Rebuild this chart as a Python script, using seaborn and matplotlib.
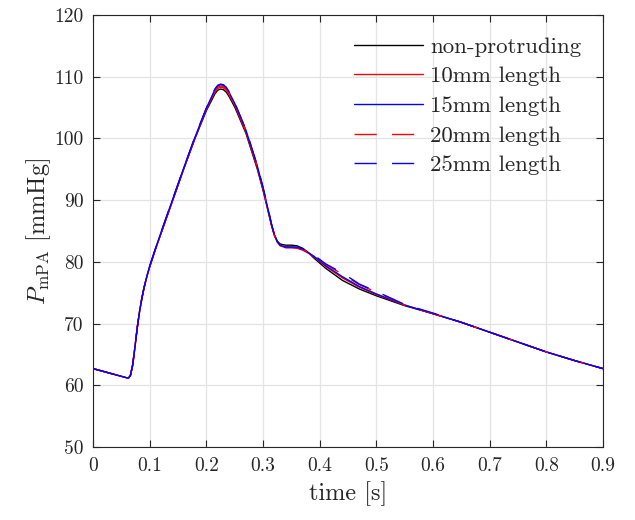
import numpy as np
import pandas as pd
import matplotlib
matplotlib.use("Agg")
import matplotlib.pyplot as plt
import seaborn as sns

# ---- data ----
time = [0.0, 0.02, 0.04, 0.06, 0.063, 0.066, 0.07, 0.074, 0.078, 0.082, 0.086, 0.09,
        0.095, 0.1, 0.11, 0.125, 0.14, 0.16, 0.18,
        0.2, 0.21, 0.215, 0.22, 0.225, 0.23, 0.235, 0.24, 0.25, 0.27, 0.29, 0.3,
        0.31, 0.315, 0.32, 0.325, 0.33, 0.34, 0.35, 0.36, 0.37, 0.38, 0.39, 0.41,
        0.44, 0.47, 0.5, 0.55,
        0.6, 0.65, 0.7, 0.75, 0.8, 0.85, 0.9]

p_nonprot = [62.7, 62.2, 61.7, 61.2, 61.2, 61.6, 63.3, 66.2, 69.3, 71.9, 74.0, 75.8,
             77.6, 79.2, 82.0, 85.9, 89.8, 95.0, 100.0,
             104.5, 106.3, 107.2, 107.8, 108.0, 107.9, 107.5, 106.8, 105.1, 100.8, 95.0, 91.6,
             87.8, 85.9, 84.4, 83.4, 82.9, 82.7, 82.7, 82.6, 82.2, 81.5, 80.6, 79.0,
             77.0, 75.6, 74.5, 72.9,
             71.6, 70.2, 68.6, 67.0, 65.4, 64.0, 62.7]
p_10mm = [62.7, 62.2, 61.7, 61.2, 61.2, 61.6, 63.3, 66.2, 69.3, 71.9, 74.0, 75.8,
          77.6, 79.2, 82.0, 85.9, 89.8, 95.1, 100.1,
          104.7, 106.6, 107.5, 108.1, 108.3, 108.2, 107.8, 107.1, 105.4, 101.0, 95.2, 91.8,
          87.9, 85.9, 84.3, 83.2, 82.6, 82.3, 82.3, 82.2, 81.9, 81.4, 80.8, 79.3,
          77.4, 75.9, 74.7, 73.0,
          71.6, 70.2, 68.6, 67.0, 65.4, 64.0, 62.7]
p_15mm = [62.7, 62.2, 61.7, 61.2, 61.2, 61.6, 63.3, 66.2, 69.3, 71.9, 74.0, 75.8,
          77.7, 79.3, 82.1, 86.1, 90.0, 95.2, 100.2,
          104.9, 106.9, 107.9, 108.5, 108.7, 108.6, 108.2, 107.5, 105.7, 101.3, 95.5, 92.0,
          88.1, 86.1, 84.4, 83.3, 82.7, 82.4, 82.4, 82.3, 82.0, 81.5, 80.9, 79.4,
          77.6, 76.0, 74.8, 73.0,
          71.6, 70.2, 68.6, 67.0, 65.4, 64.0, 62.7]
p_20mm = [62.7, 62.2, 61.7, 61.2, 61.2, 61.6, 63.3, 66.2, 69.3, 71.9, 74.0, 75.8,
          77.6, 79.2, 82.0, 86.0, 89.9, 95.1, 100.1,
          104.8, 106.8, 107.7, 108.3, 108.5, 108.4, 108.0, 107.3, 105.6, 101.2, 95.4, 91.9,
          88.0, 86.0, 84.3, 83.2, 82.6, 82.3, 82.3, 82.3, 82.0, 81.6, 81.0, 79.6,
          78.0, 76.3, 75.1, 73.0,
          71.6, 70.2, 68.6, 67.0, 65.4, 64.0, 62.7]
p_25mm = [62.7, 62.2, 61.7, 61.2, 61.2, 61.6, 63.3, 66.2, 69.3, 71.9, 74.0, 75.8,
          77.7, 79.3, 82.1, 86.1, 90.0, 95.2, 100.3,
          104.9, 107.0, 108.0, 108.6, 108.8, 108.7, 108.3, 107.6, 105.8, 101.4, 95.6, 92.1,
          88.2, 86.1, 84.4, 83.3, 82.7, 82.4, 82.4, 82.4, 82.1, 81.7, 81.1, 79.7,
          78.2, 76.4, 75.2, 73.1,
          71.7, 70.2, 68.6, 67.0, 65.4, 64.0, 62.7]

labels = ["non-protruding", "10mm length", "15mm length", "20mm length", "25mm length"]
xticks = [0, 0.1, 0.2, 0.3, 0.4, 0.5, 0.6, 0.7, 0.8, 0.9]
xticklabels = ["0", "0.1", "0.2", "0.3", "0.4", "0.5", "0.6", "0.7", "0.8", "0.9"]
yticks = [50, 60, 70, 80, 90, 100, 110, 120]

series = [p_nonprot, p_10mm, p_15mm, p_20mm, p_25mm]

sns.set_theme(style="white")
plt.rcParams["font.family"] = ["cmr10", "DejaVu Serif"]
plt.rcParams["mathtext.fontset"] = "cm"
plt.rcParams["axes.formatter.use_mathtext"] = True

fig = plt.figure(figsize=(6.35, 5.2), dpi=100)
ax = fig.add_axes([0.1465, 0.1404, 0.9496 - 0.1465, 0.9712 - 0.1404])

colors = ["black", "red", "blue", "red", "blue"]
styles = ["-", "-", "-", (0, (16, 11)), (0, (16, 11))]

for vals, lab, c, ls in zip(series, labels, colors, styles):
    df = pd.DataFrame({"t": time, "p": vals})
    sns.lineplot(data=df, x="t", y="p", ax=ax, color=c, linestyle=ls,
                 linewidth=1.0, label=lab, sort=False)

ax.set_xlim(0, 0.9)
ax.set_ylim(50, 120)
ax.set_xticks(xticks)
ax.set_xticklabels(xticklabels)
ax.set_yticks(yticks)
ax.set_yticklabels([str(v) for v in yticks])
ax.grid(True, color="#e3e3e3", linewidth=0.9)
ax.set_axisbelow(True)

for s in ax.spines.values():
    s.set_visible(True)
    s.set_color("#262626")
    s.set_linewidth(0.8)

ax.tick_params(axis="both", direction="in", length=5, width=0.8, color="#262626",
               labelsize=14, labelcolor="#262626", top=True, right=True,
               bottom=True, left=True, pad=7)

ax.set_xlabel("time [s]", fontsize=17.5, color="#262626", labelpad=4.5)
ax.set_ylabel(r"$P_{\mathrm{mPA}}$ [mmHg]", fontsize=17.5, color="#262626", labelpad=0.5)

leg = ax.legend(loc="upper right", frameon=False, fontsize=16.5, handlelength=3.0,
                handletextpad=0.3, labelspacing=0.42, borderaxespad=0.55)
for txt in leg.get_texts():
    txt.set_color("#262626")

fig.savefig("out.png", dpi=100)
